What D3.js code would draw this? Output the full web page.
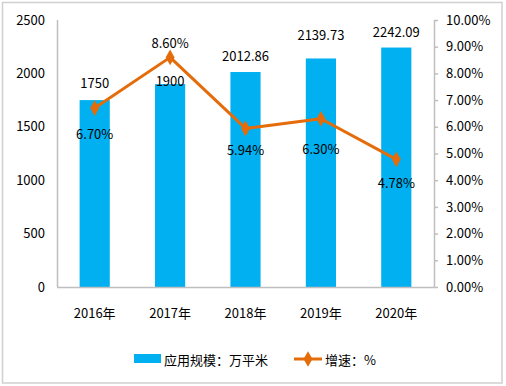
<!DOCTYPE html>
<html><head><meta charset="utf-8">
<script src="https://cdn.jsdelivr.net/npm/d3@7"></script>
<style>
body{margin:0;background:#fff;}
text{font-family:"Noto Sans CJK SC","Noto Sans",sans-serif;fill:#000;}
</style></head>
<body><svg id="c" width="506" height="386"></svg>
<script>
const categories = ["2016年","2017年","2018年","2019年","2020年"];
const scaleValues = [1750, 1900, 2012.86, 2139.73, 2242.09];
const scaleLabels = ["1750","1900","2012.86","2139.73","2242.09"];
const growthValues = [6.70, 8.60, 5.94, 6.30, 4.78];
const growthLabels = ["6.70%","8.60%","5.94%","6.30%","4.78%"];
const leftTicks = [0, 500, 1000, 1500, 2000, 2500];
const rightTicks = [0,1,2,3,4,5,6,7,8,9,10];
const seriesNames = ["应用规模：万平米", "增速：%"];

const svg = d3.select("#c");
const blue = "#00B0F0", orange = "#E46C0A", axisGray = "#BFBFBF";
const L = 57, R = 434, T = 20, B = 287;

svg.append("rect").attr("x",2.5).attr("y",2.5).attr("width",499.5).attr("height",380.5)
  .attr("fill","#fff").attr("stroke","#D0D0D0").attr("stroke-width",1.5);

const x = d3.scaleBand().domain(categories).range([L, R]).paddingInner(0.6).paddingOuter(0.3);
const yL = d3.scaleLinear().domain([0, 2500]).range([B, T]);
const yR = d3.scaleLinear().domain([0, 10]).range([B, T]);

// bars
svg.selectAll("rect.bar").data(scaleValues).enter().append("rect").attr("class","bar")
  .attr("x",(d,i)=>x(categories[i])).attr("width",x.bandwidth())
  .attr("y",d=>yL(d)).attr("height",d=>B-yL(d)).attr("fill",blue);

// axes
const gl = svg.append("g").attr("transform",`translate(${L},0)`)
  .call(d3.axisLeft(yL).tickValues(leftTicks).tickSize(0).tickPadding(12).tickFormat(d3.format("d")));
const gr = svg.append("g").attr("transform",`translate(${R},0)`)
  .call(d3.axisRight(yR).tickValues(rightTicks).tickSize(4).tickPadding(8)
    .tickFormat(d=>d.toFixed(2)+"%"));
const gb = svg.append("g").attr("transform",`translate(0,${B})`)
  .call(d3.axisBottom(x).tickSize(0).tickPadding(22));
[gl,gr,gb].forEach(g=>{
  g.select(".domain").attr("stroke",axisGray).attr("stroke-width",1.5);
  g.selectAll(".tick line").attr("stroke",axisGray).attr("stroke-width",1.5);
  g.selectAll("text").style("font-size","13px").attr("fill","#000")
   .style("font-family",'"Noto Sans CJK SC",sans-serif');
});
gb.select(".domain").attr("d",`M${L},0.5H${R}`);
gl.select(".domain").attr("d",`M0.5,${B}V${T}`);
gr.select(".domain").attr("d",`M0.5,${B}V${T}`);

// line
const cx = i => x(categories[i]) + x.bandwidth()/2;
const line = d3.line().x((d,i)=>cx(i)).y(d=>yR(d));
svg.append("path").datum(growthValues).attr("d",line).attr("fill","none")
  .attr("stroke",orange).attr("stroke-width",3).attr("stroke-linejoin","round");
const diamond = d3.symbol().type(d3.symbolDiamond).size(70);
svg.selectAll("path.mk").data(growthValues).enter().append("path").attr("class","mk")
  .attr("d",diamond).attr("fill",orange)
  .attr("transform",(d,i)=>`translate(${cx(i)},${yR(d)})`);

// labels
const barDy = [-18, -4, -17, -24, -16];
svg.selectAll("text.bl").data(scaleValues).enter().append("text").attr("class","bl")
  .attr("x",(d,i)=>cx(i)).attr("y",(d,i)=>yL(d)+barDy[i])
  .attr("text-anchor","middle").attr("dominant-baseline","central")
  .style("font-size","13px").text((d,i)=>scaleLabels[i]);
const lineDy = [25, -15, 21, 30, 23];
svg.selectAll("text.ll").data(growthValues).enter().append("text").attr("class","ll")
  .attr("x",(d,i)=>cx(i)).attr("y",(d,i)=>yR(d)+lineDy[i])
  .attr("text-anchor","middle").attr("dominant-baseline","central")
  .style("font-size","13px").text((d,i)=>growthLabels[i]);

// legend
const lg = svg.append("g");
lg.append("rect").attr("x",134).attr("y",354).attr("width",27).attr("height",9).attr("fill",blue);
lg.append("text").attr("x",164).attr("y",359).attr("dominant-baseline","central")
  .style("font-size","13px").text(seriesNames[0]);
lg.append("line").attr("x1",294).attr("x2",322).attr("y1",359).attr("y2",359)
  .attr("stroke",orange).attr("stroke-width",3);
lg.append("path").attr("d",diamond).attr("fill",orange).attr("transform","translate(308,359)");
lg.append("text").attr("x",325).attr("y",359).attr("dominant-baseline","central")
  .style("font-size","13px").text(seriesNames[1]);
</script></body></html>
